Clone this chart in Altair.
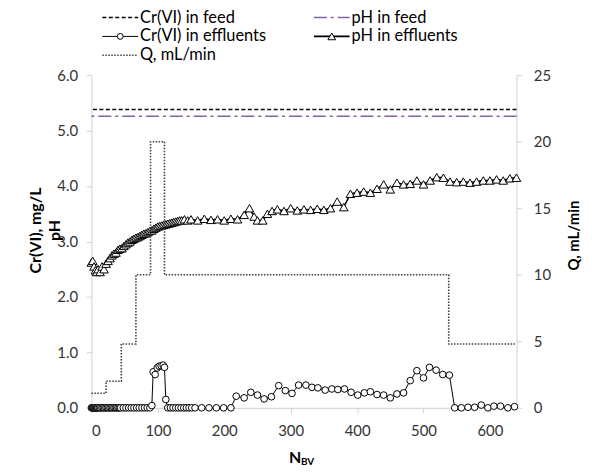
import altair as alt
import pandas as pd

# ---------------- data ----------------
cr_feed_value = [5.38]
ph_feed_value = [5.26]

cr_n = [0, 1, 2, 3, 4, 5, 6, 7, 8, 9, 10, 12, 14, 16, 18, 20, 22, 24, 26, 28,
        30, 32, 34, 36, 38, 40, 42, 44, 48, 52, 56, 60, 64, 68, 72, 76, 80, 84, 88,
        91, 93, 96, 99, 102, 105, 108, 110, 112,
        115, 119, 123, 127, 131, 135, 139, 143, 147, 151, 156,
        166, 177, 188, 199, 210,
        218, 230, 240, 250, 260, 271, 282, 292, 302, 312, 323, 332, 341, 352, 362,
        371, 381, 391, 401, 411, 420, 430, 440, 450, 460, 470, 480, 490, 500, 509,
        519, 529, 539, 547, 557, 567, 577, 587, 597, 606, 616, 627, 637]
cr_v = [0, 0, 0, 0, 0, 0, 0, 0, 0, 0, 0, 0, 0, 0, 0, 0, 0, 0, 0, 0,
        0, 0, 0, 0, 0, 0, 0, 0, 0, 0, 0, 0, 0, 0, 0, 0, 0, 0, 0,
        0.04, 0.65, 0.60, 0.72, 0.75, 0.76, 0.77, 0.73, 0.15,
        0, 0, 0, 0, 0, 0, 0, 0, 0, 0, 0,
        0, 0, 0, 0, 0,
        0.21, 0.18, 0.28, 0.23, 0.16, 0.20, 0.40, 0.31, 0.26, 0.41, 0.41, 0.37, 0.36, 0.32, 0.34,
        0.33, 0.34, 0.28, 0.23, 0.27, 0.29, 0.24, 0.23, 0.18, 0.25, 0.27, 0.49, 0.67, 0.54, 0.73,
        0.68, 0.60, 0.59, 0, 0, 0.01, 0.01, 0.05, 0, 0.03, 0.03, 0, 0.02]

ph_n = [0, 2, 4, 6, 8, 10,
        13, 16, 19, 22, 25, 28, 31, 34, 37, 40, 43, 46, 49, 52, 55, 58, 61, 64, 67, 70,
        73, 76, 79, 82, 85, 88, 91, 94, 97, 100, 103, 106, 109, 112, 115, 118, 121, 124,
        127, 130, 133, 136,
        140, 145, 150,
        160, 170, 180, 190, 200, 210, 220, 230,
        238, 245, 250, 258, 265, 272,
        280, 290, 300, 310, 320, 330, 340, 350, 360, 370, 380, 390, 400, 410, 420, 430,
        440, 450, 460, 470, 480, 490, 500, 510, 520, 530, 540, 550, 560, 570, 580, 590,
        600, 610, 620, 630, 640]
ph_v = [2.62, 2.65, 2.55, 2.48, 2.45, 2.50,
        2.45, 2.55, 2.50, 2.60, 2.65, 2.70, 2.75, 2.78, 2.80, 2.85, 2.87, 2.88, 2.92, 2.95,
        2.98, 3.00, 3.03, 3.05, 3.07, 3.08,
        3.10, 3.12, 3.14, 3.15, 3.17, 3.19, 3.20, 3.23, 3.25, 3.27, 3.28, 3.29, 3.30, 3.31,
        3.32, 3.33, 3.34, 3.35, 3.36, 3.37, 3.38, 3.38,
        3.40, 3.38, 3.40,
        3.38, 3.41, 3.39, 3.40, 3.38, 3.41, 3.40, 3.48,
        3.60, 3.45, 3.38, 3.38, 3.50, 3.55,
        3.58, 3.55, 3.60, 3.56, 3.58, 3.57, 3.59, 3.57, 3.60, 3.72, 3.62, 3.86, 3.88, 3.90,
        3.88, 3.95, 4.03, 3.94, 4.06, 4.03, 4.04, 4.10, 4.03, 4.10, 4.16, 4.15, 4.08, 4.07,
        4.08, 4.06, 4.08, 4.10, 4.10, 4.12, 4.10, 4.14, 4.15]

q_n = [0, 22, 45, 67, 89, 110, 538, 640]
q_v = [1.1, 2.0, 4.8, 10, 20, 10, 4.8, 4.8]

x_ticks = [0, 100, 200, 300, 400, 500, 600]
left_ticks = [0, 1, 2, 3, 4, 5, 6]
right_ticks = [0, 5, 10, 15, 20, 25]

# ---------------- style ----------------
FONT = "Lato"
AXC = "#d0d0d0"
LBL = "#333333"
W, H = 428, 335

cr_df = pd.DataFrame({"N": cr_n, "v": cr_v})
ph_df = pd.DataFrame({"N": ph_n, "v": ph_v})
q_df = pd.DataFrame({"N": q_n, "q": q_v})
crf_df = pd.DataFrame({"v": cr_feed_value})
phf_df = pd.DataFrame({"v": ph_feed_value})

x_axis = alt.Axis(values=x_ticks, title=None, grid=False, domainColor=AXC, tickColor=AXC,
                  tickSize=5, labelPadding=11, labelFont=FONT, labelFontSize=15,
                  labelColor=LBL)
x_enc = alt.X("N:Q", scale=alt.Scale(domain=[0, 640], nice=False, zero=False), axis=x_axis)

left_axis = alt.Axis(values=left_ticks, format=".1f", grid=False, domainColor=AXC,
                     tickColor=AXC, tickSize=5, labelPadding=9, labelFont=FONT,
                     labelFontSize=15, labelColor=LBL, title=["Cr(VI), mg/L", "pH"],
                     titleFont=FONT, titleFontSize=16, titleFontWeight="bold",
                     titleColor="#000000", titleAngle=270, titleX=-56, titleY=156,
                     titleAlign="center", titleBaseline="middle", titleLineHeight=19)
y_left = alt.Y("v:Q", scale=alt.Scale(domain=[0, 6], nice=False), axis=left_axis)

right_axis = alt.Axis(values=right_ticks, orient="right", grid=False, domainColor=AXC,
                      tickColor=AXC, tickSize=5, labelPadding=12, labelFont=FONT,
                      labelFontSize=15, labelColor=LBL, title="Q, mL/min",
                      titleFont=FONT, titleFontSize=15, titleFontWeight="bold",
                      titleColor="#000000", titleAngle=270, titleX=57, titleY=161,
                      titleAlign="center", titleBaseline="middle")
y_right = alt.Y("q:Q", scale=alt.Scale(domain=[0, 25], nice=False), axis=right_axis)

cr_feed = alt.Chart(crf_df).mark_rule(color="#000000", strokeWidth=1.6,
                                      strokeDash=[4, 2.5]).encode(y=y_left)
ph_feed = alt.Chart(phf_df).mark_rule(color="#8064A2", strokeWidth=1.6,
                                      strokeDash=[13, 4, 3, 4]).encode(y=y_left)
cr_line = alt.Chart(cr_df).mark_line(color="#000000", strokeWidth=1).encode(x=x_enc, y=y_left)
cr_pts = alt.Chart(cr_df).mark_point(shape="circle", filled=True, fill="#ffffff",
                                     stroke="#000000", strokeWidth=1, size=45,
                                     opacity=1).encode(x=x_enc, y=y_left)
ph_line = alt.Chart(ph_df).mark_line(color="#000000", strokeWidth=1.5).encode(x=x_enc, y=y_left)
ph_pts = alt.Chart(ph_df).mark_point(shape="triangle-up", filled=True, fill="#ffffff",
                                     stroke="#000000", strokeWidth=1, size=75,
                                     opacity=1).encode(x=x_enc, y=y_left)

left_group = alt.layer(cr_feed, ph_feed, cr_line, cr_pts, ph_line, ph_pts)

q_line = alt.Chart(q_df).mark_line(color="#404040", strokeWidth=1.6, strokeDash=[1.5, 1.5],
                                   interpolate="step-after").encode(x=x_enc, y=y_right)

# ---------------- legend & x title (drawn) ----------------
one = pd.DataFrame({"a": [0]})
R1, R2, R3 = -58, -39, -20
C1a, C1b, T1 = 11, 47, 49
C2a, C2b, T2 = 224, 260, 262
LFS = 16.5


def lrule(x1, x2, y, **kw):
    return alt.Chart(one).mark_rule(**kw).encode(x=alt.value(x1), x2=alt.value(x2), y=alt.value(y))


def ltext(x, y, s, size=LFS, weight="normal"):
    return alt.Chart(one).mark_text(align="left", baseline="middle", font=FONT, fontSize=size,
                                    fontWeight=weight, color="#000000").encode(
        x=alt.value(x), y=alt.value(y), text=alt.value(s))


legend = [
    lrule(C1a, C1b, R1, color="#000000", strokeWidth=1.6, strokeDash=[4, 2.5]),
    ltext(T1, R1, "Cr(VI) in feed"),
    lrule(C2a, C2b, R1, color="#8064A2", strokeWidth=1.6, strokeDash=[13, 4, 3, 4]),
    ltext(T2, R1, "pH in feed"),
    lrule(C1a, C1b, R2, color="#000000", strokeWidth=1),
    alt.Chart(one).mark_point(shape="circle", filled=True, fill="#ffffff", stroke="#000000",
                              strokeWidth=1, size=35, opacity=1).encode(
        x=alt.value((C1a + C1b) / 2), y=alt.value(R2)),
    ltext(T1, R2, "Cr(VI) in effluents"),
    lrule(C2a, C2b, R2, color="#000000", strokeWidth=1.6),
    alt.Chart(one).mark_point(shape="triangle-up", filled=True, fill="#ffffff", stroke="#000000",
                              strokeWidth=1, size=60, opacity=1).encode(
        x=alt.value((C2a + C2b) / 2), y=alt.value(R2)),
    ltext(T2, R2, "pH in effluents"),
    lrule(C1a, C1b, R3, color="#404040", strokeWidth=1.6, strokeDash=[1.5, 1.5]),
    ltext(T1, R3, "Q, mL/min"),
    ltext(199, H + 51, "N", size=16, weight="bold"),
    ltext(211, H + 55, "BV", size=10, weight="bold"),
]

chart = alt.layer(left_group, q_line, *legend).resolve_scale(y="independent").properties(
    width=W, height=H,
    padding={"left": 84, "top": 66, "right": 68, "bottom": 61},
    autosize=alt.AutoSizeParams(type="none"),
).configure_view(stroke=None)

chart.save("out.html", embed_options={"renderer": "svg", "actions": False})
